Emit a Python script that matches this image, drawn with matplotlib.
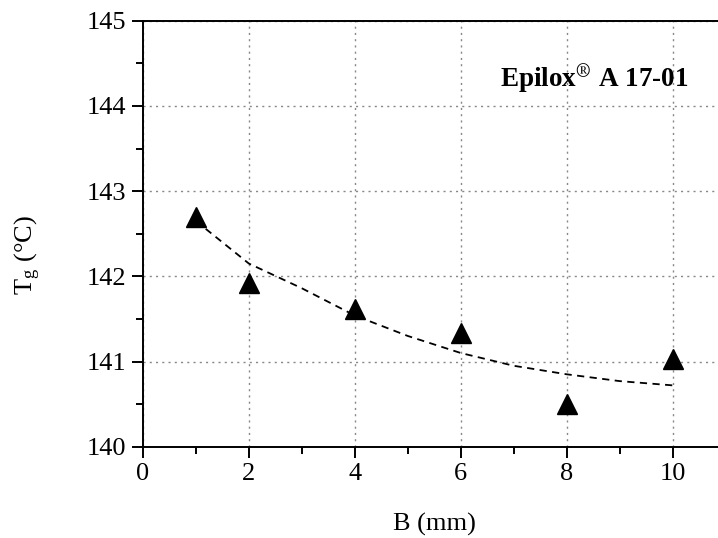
import numpy as np
import matplotlib
matplotlib.use("Agg")
import matplotlib.pyplot as plt
from matplotlib.ticker import MultipleLocator

# --- Data ---
b_mm = [1, 2, 4, 6, 8, 10]
tg = [142.70, 141.92, 141.62, 141.33, 140.50, 141.03]

# fitted trend
fit_b = [1, 2, 3, 4, 5, 6, 7, 8, 9, 10]
fit_tg = [142.65, 142.15, 141.86, 141.54, 141.30, 141.10, 140.95, 140.85, 140.77, 140.72]

x_ticks = [0, 2, 4, 6, 8, 10]
y_ticks = [140, 141, 142, 143, 144, 145]

plt.rcParams['font.family'] = ['Liberation Serif', 'DejaVu Serif']
plt.rcParams['mathtext.fontset'] = 'stix'

fig = plt.figure(figsize=(7.18, 5.38), dpi=100)
ax = fig.add_axes([0.199, 0.1697, 0.8115, 0.7918])

ax.plot(fit_b, fit_tg, color='black', linestyle=(0, (4, 3)), linewidth=1.3, zorder=2)
ax.plot(b_mm, tg, linestyle='none', marker='^', markersize=14,
        color='black', zorder=3)

ax.set_xlim(0, 11)
ax.set_ylim(140, 145)
ax.set_xticks(x_ticks)
ax.set_yticks(y_ticks)
ax.xaxis.set_minor_locator(MultipleLocator(1))
ax.yaxis.set_minor_locator(MultipleLocator(0.5))

ax.grid(True, which='major', color='#888888', linestyle=(0, (1.5, 3)), linewidth=1.0)
ax.set_axisbelow(True)

ax.spines['right'].set_visible(False)
for s in ['left', 'bottom', 'top']:
    ax.spines[s].set_linewidth(1.4)

ax.tick_params(which='major', direction='out', length=8, width=1.4, labelsize=19, pad=4)
ax.tick_params(which='minor', direction='out', length=5, width=1.4)

ax.set_xlabel('B (mm)', fontsize=19)
ax.set_ylabel(r'T$_{\mathregular{g}}$ (°C)', fontsize=19)
ax.xaxis.set_label_coords(0.5, -0.155)
ax.yaxis.set_label_coords(-0.172, 0.45)

ax.text(8.53, 144.22, r'Epilox$^{®}$ A 17-01', fontsize=19.5, fontweight='bold',
        ha='center', va='baseline')

fig.savefig('out.png', dpi=100)
